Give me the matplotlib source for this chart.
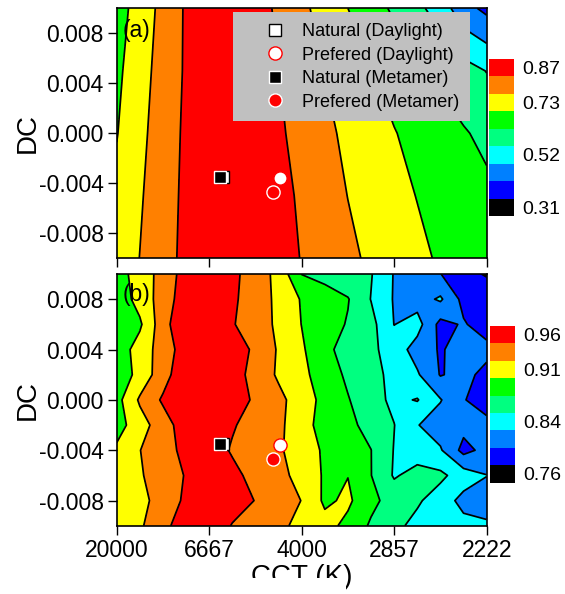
import numpy as np
import matplotlib
matplotlib.use('Agg')
import matplotlib.pyplot as plt
from matplotlib.lines import Line2D
from matplotlib.patches import Rectangle
from matplotlib.ticker import FormatStrFormatter

plt.rcParams['font.family'] = ['Liberation Sans', 'DejaVu Sans']
plt.rcParams['axes.unicode_minus'] = False

# grid: reciprocal colour temperature (MK^-1) x DC
mired = [50, 75, 100, 125, 150, 175, 200, 225, 250, 275, 300, 325, 350, 375, 400, 425, 450]
dc_a = [-0.010, -0.005, 0.000, 0.005, 0.010]
dc_b = [-0.010, -0.008, -0.006, -0.004, -0.002, 0.000, 0.002, 0.004, 0.006, 0.008, 0.010]

# panel (a) values, rows bottom -> top
z_a = [
    [0.724, 0.766, 0.808, 0.853, 0.880, 0.890, 0.886, 0.866, 0.832, 0.805, 0.779, 0.754, 0.732, 0.710, 0.687, 0.675, 0.665],
    [0.713, 0.758, 0.804, 0.850, 0.876, 0.885, 0.880, 0.858, 0.824, 0.794, 0.764, 0.741, 0.716, 0.693, 0.668, 0.655, 0.640],
    [0.692, 0.748, 0.799, 0.847, 0.872, 0.880, 0.872, 0.845, 0.813, 0.780, 0.751, 0.724, 0.698, 0.675, 0.653, 0.631, 0.609],
    [0.680, 0.737, 0.793, 0.843, 0.868, 0.876, 0.865, 0.836, 0.799, 0.763, 0.730, 0.698, 0.669, 0.640, 0.611, 0.582, 0.553],
    [0.664, 0.725, 0.785, 0.843, 0.868, 0.875, 0.862, 0.824, 0.781, 0.737, 0.695, 0.654, 0.614, 0.572, 0.523, 0.440, 0.398],
]

# panel (b) values, rows bottom -> top
z_b = [
    [0.910, 0.919, 0.940, 0.962, 0.960, 0.9465, 0.937, 0.927, 0.917, 0.906, 0.891, 0.869, 0.854, 0.840, 0.835, 0.830, 0.826],
    [0.905, 0.915, 0.933, 0.952, 0.957, 0.955, 0.947, 0.9345, 0.922, 0.893, 0.902, 0.879, 0.862, 0.851, 0.835, 0.815, 0.812],
    [0.905, 0.920, 0.935, 0.949, 0.957, 0.953, 0.941, 0.930, 0.914, 0.8945, 0.897, 0.873, 0.845, 0.856, 0.853, 0.835, 0.823],
    [0.902, 0.922, 0.938, 0.954, 0.958, 0.9454, 0.936, 0.926, 0.910, 0.894, 0.883, 0.8728, 0.8464, 0.836, 0.825, 0.790, 0.805],
    [0.887, 0.912, 0.936, 0.961, 0.966, 0.9495, 0.939, 0.9285, 0.906, 0.889, 0.878, 0.865, 0.848, 0.8236, 0.810, 0.805, 0.805],
    [0.889, 0.926, 0.951, 0.962, 0.968, 0.962, 0.943, 0.929, 0.910, 0.890, 0.874, 0.857, 0.842, 0.849, 0.824, 0.799, 0.785],
    [0.880, 0.906, 0.937, 0.967, 0.968, 0.958, 0.939, 0.919, 0.9035, 0.886, 0.868, 0.855, 0.841, 0.8254, 0.796, 0.805, 0.790],
    [0.883, 0.908, 0.934, 0.960, 0.968, 0.963, 0.942, 0.920, 0.901, 0.878, 0.864, 0.853, 0.836, 0.812, 0.795, 0.808, 0.805],
    [0.885, 0.8935, 0.9375, 0.970, 0.968, 0.9494, 0.9345, 0.918, 0.897, 0.884, 0.8706, 0.8555, 0.822, 0.832, 0.790, 0.800, 0.785],
    [0.881, 0.907, 0.9335, 0.962, 0.966, 0.9518, 0.935, 0.917, 0.8954, 0.8846, 0.8739, 0.8467, 0.8205, 0.812, 0.826, 0.790, 0.790],
    [0.887, 0.908, 0.932, 0.958, 0.963, 0.9533, 0.936, 0.915, 0.872, 0.864, 0.8565, 0.849, 0.821, 0.810, 0.798, 0.781, 0.770],
]

levels_a = [0.275, 0.345, 0.415, 0.485, 0.555, 0.625, 0.695, 0.765, 0.835, 0.905]
levels_b = [0.7475, 0.7725, 0.7975, 0.8225, 0.8475, 0.8725, 0.8975, 0.9225, 0.9475, 0.9725]
cbar_ticks_a = [0.31, 0.52, 0.73, 0.87]
cbar_labels_a = ['0.31', '0.52', '0.73', '0.87']
cbar_ticks_b = [0.76, 0.835, 0.91, 0.96]
cbar_labels_b = ['0.76', '0.84', '0.91', '0.96']
band_colors = ['#000000', '#0000ff', '#0080ff', '#00ffff', '#00ff80',
               '#00ff00', '#ffff00', '#ff8000', '#ff0000']

cct_ticks = [20000, 6667, 4000, 2857, 2222]
dc_ticks = [-0.008, -0.004, 0.000, 0.004, 0.008]

# markers (CCT in K, DC)
nat_day = (6060, -0.0035)
nat_met = (6190, -0.0035)
pref_day = (4415, -0.0036)
pref_met = (4560, -0.0047)

fig = plt.figure(figsize=(5.65, 5.94), dpi=100)
W, H = 565.0, 594.0
ax_a = fig.add_axes([116.7 / W, 1 - 258.3 / H, 370 / W, 250 / H])
ax_b = fig.add_axes([116.7 / W, 1 - 525.8 / H, 370 / W, 251.8 / H])


def draw_panel(ax, dc, z, levels, tag, tag_y):
    X, Y = np.meshgrid(mired, dc)
    Z = np.array(z)
    cs = ax.contourf(X, Y, Z, levels=levels, colors=band_colors)
    ax.contour(X, Y, Z, levels=levels[1:-1], colors='k', linewidths=1.25)
    ax.plot(1e6 / nat_day[0], nat_day[1], 's', ms=8.5, mfc='white', mec='black', mew=1)
    ax.plot(1e6 / nat_met[0], nat_met[1], 's', ms=8.5, mfc='black', mec='white', mew=1)
    ax.plot(1e6 / pref_day[0], pref_day[1], 'o', ms=9.5, mfc='white', mec='red', mew=1)
    ax.plot(1e6 / pref_met[0], pref_met[1], 'o', ms=9.5, mfc='red', mec='white', mew=1)
    ax.set_xlim(1e6 / cct_ticks[0], 1e6 / cct_ticks[-1])
    ax.set_ylim(-0.010, 0.010)
    ax.set_xticks([1e6 / c for c in cct_ticks])
    ax.set_yticks(dc_ticks)
    ax.yaxis.set_major_formatter(FormatStrFormatter('%.3f'))
    ax.tick_params(direction='out', length=6.3, width=1, labelsize=16.5, pad=3)
    for s in ax.spines.values():
        s.set_linewidth(1.2)
    ax.set_ylabel('DC', fontsize=20)
    ax.yaxis.set_label_coords(-0.205, 0.5)
    ax.text(0.017, tag_y, tag, transform=ax.transAxes, ha='left', va='top', fontsize=16.5)
    return cs


cs_a = draw_panel(ax_a, dc_a, z_a, levels_a, '(a)', 0.958)
cs_b = draw_panel(ax_b, dc_b, z_b, levels_b, '(b)', 0.966)
ax_a.set_xticklabels([])
ax_b.set_xticklabels([str(c) for c in cct_ticks])
ax_b.set_xlabel('CCT (K)', fontsize=20, labelpad=2)

handles = [
    Line2D([], [], ls='none', marker='s', ms=8.5, mfc='white', mec='black', mew=1),
    Line2D([], [], ls='none', marker='o', ms=9.5, mfc='white', mec='red', mew=1),
    Line2D([], [], ls='none', marker='s', ms=8.5, mfc='black', mec='white', mew=1),
    Line2D([], [], ls='none', marker='o', ms=9.5, mfc='red', mec='white', mew=1),
]
labels = ['Natural (Daylight)', 'Prefered (Daylight)', 'Natural (Metamer)', 'Prefered (Metamer)']
leg = ax_a.legend(handles, labels, loc='upper left',
                  bbox_to_anchor=((233 - 116.7) / 370, 1 - (12.3 - 8.3) / 250),
                  borderaxespad=0, fontsize=13, frameon=True, fancybox=False,
                  facecolor='#c0c0c0', edgecolor='none', framealpha=1,
                  borderpad=0.6, handlelength=3.5, handletextpad=-0.3, labelspacing=0.36)


def add_cbar(cs, rect, ticks, tlabels):
    cax = fig.add_axes(rect)
    cb = fig.colorbar(cs, cax=cax)
    cb.outline.set_visible(False)
    cb.set_ticks(ticks)
    cb.set_ticklabels(tlabels)
    cax.tick_params(length=0, labelsize=14, pad=6)


add_cbar(cs_a, [489 / W, 1 - 216 / H, 25 / W, 157 / H], cbar_ticks_a, cbar_labels_a)
add_cbar(cs_b, [490 / W, 1 - 482.7 / H, 25 / W, 156.7 / H], cbar_ticks_b, cbar_labels_b)

# the reference has the lower part of the axis title cut off
fig.add_artist(Rectangle((250 / W, 0), 96 / W, 16 / H, transform=fig.transFigure,
                         facecolor='white', edgecolor='none', zorder=10))

fig.savefig('out.png', dpi=100)
